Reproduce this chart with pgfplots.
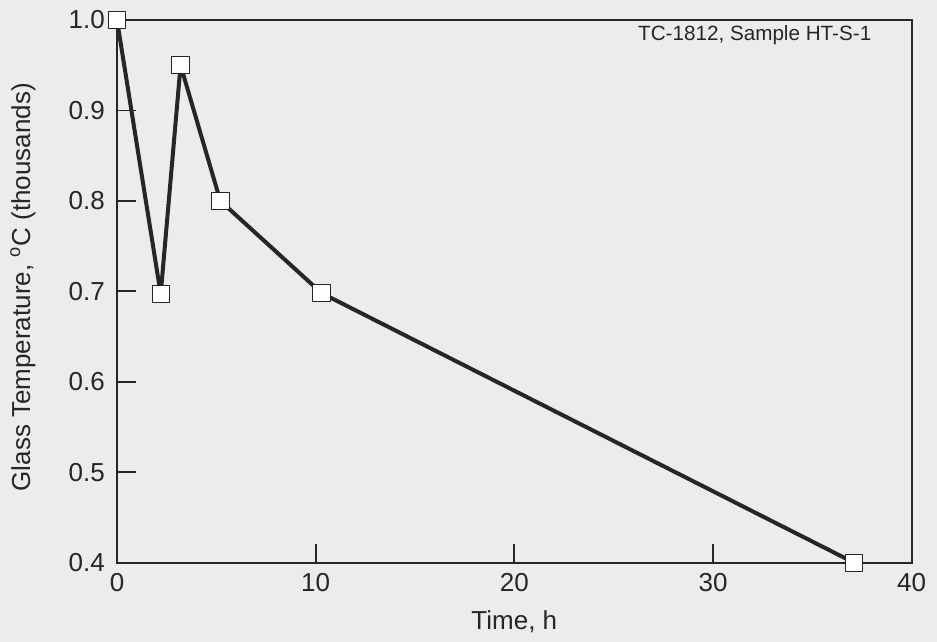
\documentclass[border=0pt]{standalone}
\usepackage{fontspec}
\setmainfont{Liberation Sans}
\usepackage{pgfplots}
\pgfplotsset{compat=1.18}
\definecolor{paper}{RGB}{236,236,234}
\definecolor{ink}{RGB}{38,38,38}
\begin{document}
\begin{tikzpicture}
\useasboundingbox (-87.75pt,-59.25pt) rectangle (615pt,422pt);
\fill[paper] (-87.75pt,-59.25pt) rectangle (615pt,422pt);
\begin{axis}[
  at={(0pt,0pt)}, anchor=south west,
  scale only axis,
  width=596pt, height=407pt,
  xmin=0, xmax=40, ymin=0.4, ymax=1.0,
  xtick={0,10,20,30,40},
  ytick={0.4,0.5,0.6,0.7,0.8,0.9,1.0},
  /pgf/number format/assume math mode=true,
  xtick pos=bottom, ytick pos=left,
  tick align=inside,
  major tick length=14pt,
  axis line style={ink, line width=1.3pt},
  every tick/.style={ink, line width=1.3pt},
  tick label style={font=\fontsize{19.5}{22}\selectfont, text=ink, inner sep=0pt},
  yticklabel style={/pgf/number format/fixed, /pgf/number format/fixed zerofill, /pgf/number format/precision=1, anchor=east, xshift=-9pt},
  xticklabel style={anchor=north, yshift=-7.5pt},
  label style={font=\fontsize{19.5}{22}\selectfont, text=ink},
  xlabel={Time, h},
  ylabel={Glass Temperature, \textsuperscript{o}C (thousands)},
  xlabel style={at={(axis description cs:0.5,0)}, anchor=center, yshift=-44pt},
  ylabel style={at={(axis description cs:0,0.5)}, anchor=center, yshift=70.5pt, xshift=3pt},
  clip=false,
]
\addplot[ink, line width=3pt, line join=round, mark=square*, mark size=6.5pt,
  mark options={fill=white, draw=ink, line width=0.7pt}]
  coordinates {(0,1.0) (2.2,0.697) (3.2,0.95) (5.2,0.80) (10.3,0.698) (37.1,0.40)};
\node[anchor=center, text=ink, font=\fontsize{15.5}{18}\selectfont] at (axis cs:32.1,0.983) {TC-1812, Sample HT-S-1};
\end{axis}
\end{tikzpicture}
\end{document}
